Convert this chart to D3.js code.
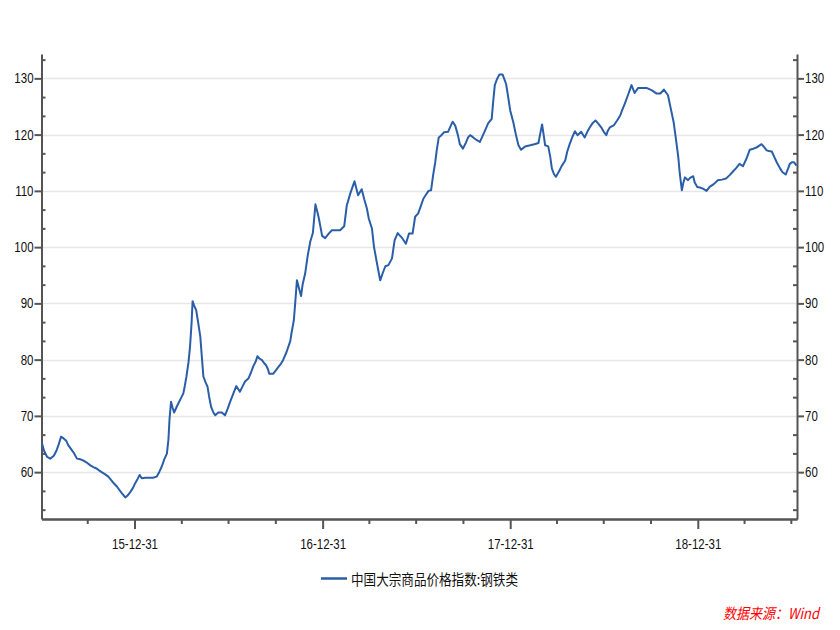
<!DOCTYPE html>
<html>
<head>
<meta charset="utf-8">
<title>中国大宗商品价格指数:钢铁类</title>
<script src="https://cdnjs.cloudflare.com/ajax/libs/d3/7.8.5/d3.min.js"></script>
<style>
  body { margin: 0; background: #ffffff; }
  .tick text { font-family: "Liberation Sans Narrow", "Arial Narrow", "Liberation Sans", sans-serif; font-size: 14px; fill: #111; }
</style>
</head>
<body>
<script>
// series: china commodity price index, steel (weekly-ish readings)
var dates = [
  "2015-07-04","2015-07-08","2015-07-14","2015-07-20","2015-07-27","2015-08-01","2015-08-05","2015-08-10",
  "2015-08-15","2015-08-20","2015-08-24","2015-08-31","2015-09-04","2015-09-10","2015-09-16","2015-09-22",
  "2015-09-29","2015-10-06","2015-10-12","2015-10-19","2015-10-23","2015-10-28","2015-11-04","2015-11-10",
  "2015-11-18","2015-11-27","2015-12-05","2015-12-13","2015-12-17","2015-12-23","2015-12-28","2016-01-01",
  "2016-01-06","2016-01-10","2016-01-14","2016-01-21","2016-01-29","2016-02-05","2016-02-12","2016-02-17",
  "2016-02-22","2016-02-27","2016-03-03","2016-03-06","2016-03-08","2016-03-11","2016-03-14","2016-03-17",
  "2016-03-23","2016-03-29","2016-04-04","2016-04-07","2016-04-10","2016-04-14","2016-04-17","2016-04-20",
  "2016-04-22","2016-04-25","2016-04-29","2016-05-03","2016-05-07","2016-05-10","2016-05-13","2016-05-17",
  "2016-05-21","2016-05-24","2016-05-28","2016-06-01","2016-06-05","2016-06-11","2016-06-18","2016-06-24",
  "2016-06-29","2016-07-04","2016-07-10","2016-07-16","2016-07-23","2016-07-28","2016-08-02","2016-08-09",
  "2016-08-14","2016-08-18","2016-08-23","2016-08-26","2016-08-30","2016-09-04","2016-09-08","2016-09-12",
  "2016-09-16","2016-09-18","2016-09-26","2016-10-01","2016-10-06","2016-10-11","2016-10-15","2016-10-22",
  "2016-10-29","2016-11-01","2016-11-05","2016-11-08","2016-11-11","2016-11-15","2016-11-19","2016-11-22",
  "2016-11-27","2016-12-02","2016-12-07","2016-12-12","2016-12-17","2016-12-20","2016-12-23","2016-12-27",
  "2016-12-30","2017-01-05","2017-01-11","2017-01-18","2017-01-27","2017-02-03","2017-02-11","2017-02-16",
  "2017-02-23","2017-03-03","2017-03-10","2017-03-17","2017-03-22","2017-03-27","2017-03-31","2017-04-06",
  "2017-04-10","2017-04-16","2017-04-22","2017-04-27","2017-05-02","2017-05-08","2017-05-15","2017-05-20",
  "2017-05-26","2017-06-03","2017-06-11","2017-06-17","2017-06-24","2017-06-29","2017-07-05","2017-07-10",
  "2017-07-15","2017-07-20","2017-07-25","2017-07-30","2017-08-03","2017-08-07","2017-08-10","2017-08-14",
  "2017-08-18","2017-08-24","2017-09-01","2017-09-06","2017-09-10","2017-09-15","2017-09-20","2017-09-24",
  "2017-09-30","2017-10-06","2017-10-10","2017-10-14","2017-10-20","2017-10-27","2017-11-02","2017-11-10",
  "2017-11-18","2017-11-25","2017-11-28","2017-12-01","2017-12-05","2017-12-10","2017-12-16","2017-12-19",
  "2017-12-23","2017-12-27","2017-12-31","2018-01-06","2018-01-11","2018-01-16","2018-01-21","2018-01-25",
  "2018-01-29","2018-02-08","2018-02-16","2018-02-24","2018-02-27","2018-03-03","2018-03-06","2018-03-09",
  "2018-03-15","2018-03-19","2018-03-22","2018-03-26","2018-03-30","2018-04-05","2018-04-10","2018-04-17",
  "2018-04-21","2018-04-26","2018-05-01","2018-05-06","2018-05-11","2018-05-18","2018-05-25","2018-05-30",
  "2018-06-04","2018-06-09","2018-06-15","2018-06-20","2018-06-26","2018-07-01","2018-07-06","2018-07-09",
  "2018-07-13","2018-07-21","2018-07-27","2018-08-02","2018-08-06","2018-08-11","2018-08-17","2018-08-24",
  "2018-08-30","2018-09-06","2018-09-13","2018-09-22","2018-10-02","2018-10-12","2018-10-19","2018-10-26",
  "2018-11-03","2018-11-08","2018-11-14","2018-11-18","2018-11-23","2018-11-26","2018-11-30","2018-12-03",
  "2018-12-06","2018-12-12","2018-12-16","2018-12-22","2018-12-25","2018-12-30","2019-01-04","2019-01-10",
  "2019-01-17","2019-01-23","2019-01-31","2019-02-08","2019-02-16","2019-02-24","2019-03-03","2019-03-09",
  "2019-03-16","2019-03-22","2019-03-29","2019-04-05","2019-04-11","2019-04-18","2019-04-24","2019-04-29",
  "2019-05-04","2019-05-09","2019-05-14","2019-05-18","2019-05-24","2019-05-29","2019-06-03","2019-06-09",
  "2019-06-14","2019-06-20","2019-06-24","2019-06-28","2019-07-02","2019-07-06","2019-07-11"
];

var values = [
  65.1, 63.8, 62.7, 62.4, 62.9, 63.8, 64.8, 66.3,
  66.0, 65.6, 64.8, 63.9, 63.4, 62.4, 62.3, 62.1,
  61.7, 61.2, 60.9, 60.6, 60.3, 60.0, 59.6, 59.2,
  58.3, 57.4, 56.4, 55.5, 55.8, 56.5, 57.2, 58.0,
  58.8, 59.5, 58.9, 59.0, 59.0, 59.0, 59.2, 60.0,
  61.0, 62.3, 63.3, 65.8, 69.3, 72.5, 71.5, 70.6,
  71.8, 72.9, 74.0, 75.4, 77.0, 79.5, 82.3, 86.5,
  90.4, 89.6, 88.8, 86.5, 84.1, 80.5, 77.0, 76.0,
  75.2, 73.5, 71.6, 70.7, 70.1, 70.6, 70.6, 70.1,
  71.2, 72.5, 73.9, 75.3, 74.3, 75.2, 76.1, 76.7,
  77.8, 78.8, 79.7, 80.6, 80.2, 79.9, 79.4, 79.0,
  78.2, 77.5, 77.5, 78.1, 78.7, 79.3, 79.9, 81.4,
  83.3, 85.0, 87.0, 90.5, 94.1, 92.7, 91.3, 93.3,
  95.3, 98.5, 101.0, 102.5, 107.6, 106.5, 105.4, 103.5,
  102.0, 101.6, 102.3, 103.0, 103.0, 103.0, 103.7, 107.4,
  109.6, 111.7, 109.2, 110.3, 108.5, 106.9, 105.0, 103.3,
  100.0, 97.0, 94.1, 95.4, 96.6, 96.8, 98.0, 101.2,
  102.5, 101.7, 100.6, 102.4, 102.4, 105.4, 106.0, 107.3,
  108.6, 109.3, 110.0, 110.1, 112.8, 115.0, 117.2, 119.5,
  119.8, 120.4, 120.5, 121.5, 122.3, 121.6, 120.0, 118.3,
  117.5, 118.6, 119.5, 119.9, 119.5, 119.0, 118.7, 120.3,
  122.0, 122.8, 126.0, 128.8, 129.8, 130.7, 130.7, 130.0,
  129.0, 126.7, 124.3, 122.2, 120.0, 118.1, 117.3, 117.6,
  117.9, 118.1, 118.3, 118.5, 120.0, 121.8, 120.0, 118.1,
  117.9, 116.0, 114.0, 113.0, 112.5, 113.5, 114.4, 115.4,
  117.0, 118.4, 119.6, 120.6, 119.9, 120.5, 119.5, 120.5,
  121.3, 122.0, 122.5, 122.0, 121.3, 120.5, 119.9, 120.7,
  121.3, 121.7, 122.5, 123.4, 124.4, 125.5, 127.0, 128.8,
  127.4, 128.3, 128.3, 128.3, 127.9, 127.3, 127.3, 128.0,
  127.0, 124.8, 122.2, 119.5, 116.0, 113.0, 110.1, 111.5,
  112.4, 111.9, 112.3, 112.6, 111.5, 110.7, 110.6, 110.4,
  110.0, 110.7, 111.2, 111.9, 112.0, 112.2, 112.8, 113.4,
  114.1, 114.8, 114.4, 115.8, 117.3, 117.5, 117.7, 118.0,
  118.3, 117.8, 117.2, 117.1, 117.0, 116.0, 115.0, 114.0,
  113.3, 112.9, 113.8, 114.8, 115.1, 115.1, 114.5
];

// axis labels and legend text
var majorTicks = [60, 70, 80, 90, 100, 110, 120, 130];
var minorTicks = [53.33, 56.67, 63.33, 66.67, 73.33, 76.67, 83.33, 86.67, 93.33, 96.67,
                  103.33, 106.67, 113.33, 116.67, 123.33, 126.67, 133.33];
var yearTicks = ["2015-12-31", "2016-12-31", "2017-12-31", "2018-12-31"];
var quarterTicks = ["2015-09-30", "2016-03-31", "2016-06-30", "2016-09-30", "2017-03-31", "2017-06-30",
                    "2017-09-30", "2018-03-31", "2018-06-30", "2018-09-30", "2019-03-31", "2019-06-30"];
var seriesName = "中国大宗商品价格指数:钢铁类";
var sourceText = "数据来源：Wind";

var parse = d3.timeParse("%Y-%m-%d");
var dataset = dates.map(function(d, i) {
  return {date: parse(d), value: values[i]};
});

var svg = d3.select("body")
  .append("svg")
  .attr("width", 840)
  .attr("height", 630);

var plotLeft = 41.5, plotRight = 797, plotTop = 54, plotBottom = 519;

var x = d3.scaleTime()
  .domain([parse("2015-07-03"), parse("2019-07-12")])
  .range([plotLeft, plotRight]);

var y = d3.scaleLinear()
  .domain([51.67, 134.33])
  .range([plotBottom, plotTop]);

// gridlines
svg.append("g")
  .selectAll("line")
  .data(majorTicks)
  .enter()
  .append("line")
  .attr("x1", plotLeft)
  .attr("x2", plotRight)
  .attr("y1", function(d) { return Math.round(y(d)) + 0.5; })
  .attr("y2", function(d) { return Math.round(y(d)) + 0.5; })
  .attr("stroke", "#e6e6e6")
  .attr("stroke-width", 1.5);

// minor ticks, pointing inward
svg.append("g")
  .attr("transform", "translate(" + plotLeft + ",0)")
  .call(d3.axisRight(y).tickValues(minorTicks).tickSize(4).tickFormat(""))
  .call(function(g) { g.select(".domain").remove(); })
  .selectAll("line").attr("stroke", "#555").attr("stroke-width", 2);

svg.append("g")
  .attr("transform", "translate(" + plotRight + ",0)")
  .call(d3.axisLeft(y).tickValues(minorTicks).tickSize(4).tickFormat(""))
  .call(function(g) { g.select(".domain").remove(); })
  .selectAll("line").attr("stroke", "#555").attr("stroke-width", 2);

// left and right axes
var yLeft = svg.append("g")
  .attr("transform", "translate(" + plotLeft + ",0)")
  .call(d3.axisLeft(y).tickValues(majorTicks).tickSize(7).tickSizeOuter(0).tickPadding(1));

var yRight = svg.append("g")
  .attr("transform", "translate(" + plotRight + ",0)")
  .call(d3.axisRight(y).tickValues(majorTicks).tickSize(7).tickSizeOuter(0).tickPadding(1));

// bottom axis
var xMinor = svg.append("g")
  .attr("transform", "translate(0," + plotBottom + ")")
  .call(d3.axisBottom(x).tickValues(quarterTicks.map(parse)).tickSize(5).tickSizeOuter(0).tickFormat(""));

var xAxis = svg.append("g")
  .attr("transform", "translate(0," + plotBottom + ")")
  .call(d3.axisBottom(x).tickValues(yearTicks.map(parse)).tickSize(10).tickSizeOuter(0)
    .tickPadding(10).tickFormat(d3.timeFormat("%y-%m-%d")));

[yLeft, yRight, xMinor, xAxis].forEach(function(g) {
  g.select(".domain").attr("stroke", "#555").attr("stroke-width", 2);
  g.selectAll(".tick line").attr("stroke", "#555").attr("stroke-width", 2);
  // squeeze the labels, the original uses a narrow face
  g.selectAll(".tick text").each(function() {
    var w = this.getComputedTextLength();
    d3.select(this).attr("textLength", w * 0.82).attr("lengthAdjust", "spacingAndGlyphs");
  });
});

// the series line
var line = d3.line()
  .x(function(d) { return x(d.date); })
  .y(function(d) { return y(d.value); });

svg.append("path")
  .datum(dataset)
  .attr("fill", "none")
  .attr("stroke", "#2b5ea8")
  .attr("stroke-width", 2)
  .attr("stroke-linejoin", "round")
  .attr("d", line);

// legend
svg.append("line")
  .attr("x1", 321)
  .attr("x2", 347)
  .attr("y1", 578.5)
  .attr("y2", 578.5)
  .attr("stroke", "#2b5ea8")
  .attr("stroke-width", 2.5);

svg.append("text")
  .attr("x", 351)
  .attr("y", 585)
  .attr("textLength", 167)
  .attr("lengthAdjust", "spacingAndGlyphs")
  .style("font-family", "Noto Sans CJK SC, sans-serif")
  .style("font-size", "15px")
  .style("fill", "#111")
  .text(seriesName);

// source note
svg.append("text")
  .attr("x", 723)
  .attr("y", 619)
  .attr("textLength", 96)
  .attr("lengthAdjust", "spacingAndGlyphs")
  .style("font-family", "Noto Sans CJK SC, sans-serif")
  .style("font-size", "15px")
  .style("font-style", "italic")
  .style("fill", "#ff0000")
  .text(sourceText);
</script>
</body>
</html>
